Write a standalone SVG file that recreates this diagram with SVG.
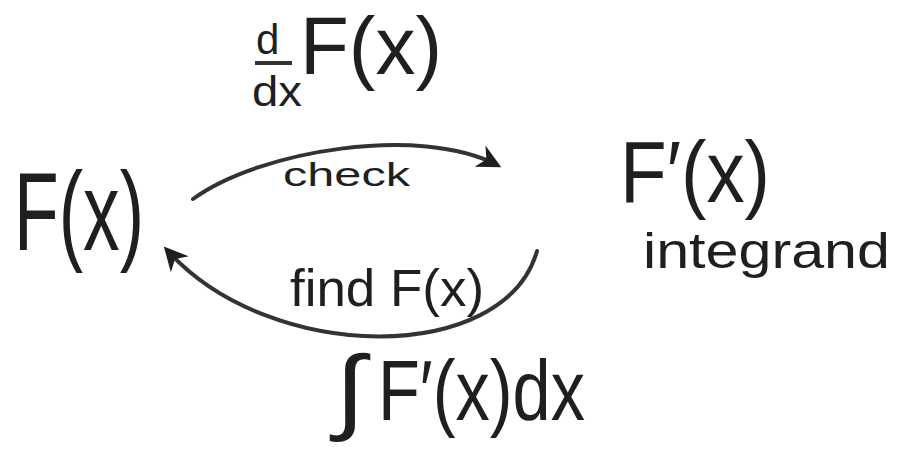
<svg xmlns="http://www.w3.org/2000/svg" width="897" height="456" viewBox="0 0 897 456">
<style>
.t{font-family:"Liberation Sans","DejaVu Sans",sans-serif;fill:#1f1f1f}
.c{fill:none;stroke:#333;stroke-width:4;stroke-linecap:round}
</style>
<defs>
<marker id="ah" viewBox="0 0 10 10" refX="8" refY="5" markerWidth="6" markerHeight="6" orient="auto" markerUnits="strokeWidth">
<path d="M0,0 L10,5 L0,10 L3,5 Z" fill="#1f1f1f"/>
</marker>
</defs>
<rect width="897" height="456" fill="#fff"/>
<g id="Fx">
<text class="t" x="14" y="250" font-size="112" textLength="130" lengthAdjust="spacingAndGlyphs">F(x)</text>
</g>
<g id="Fprime">
<text class="t" x="620" y="202" font-size="88" textLength="150" lengthAdjust="spacingAndGlyphs">F′(x)</text>
<text class="t" x="643" y="268" font-size="50" textLength="247" lengthAdjust="spacingAndGlyphs">integrand</text>
</g>
<g id="connectors">
<path class="c" d="M193,199 C260,150 420,125 497,165" marker-end="url(#ah)"/>
<path class="c" d="M537,251 C505,365 270,365 167,250" marker-end="url(#ah)"/>
</g>
<g id="labels">
<text class="t" x="256" y="54" font-size="42">d</text>
<line x1="255" y1="63" x2="292" y2="63" stroke="#333" stroke-width="4"/>
<text class="t" x="252" y="106" font-size="42" textLength="50" lengthAdjust="spacingAndGlyphs">dx</text>
<text class="t" x="300" y="74" font-size="82" textLength="142" lengthAdjust="spacingAndGlyphs">F(x)</text>
<text class="t" x="283" y="186" font-size="34" textLength="127" lengthAdjust="spacingAndGlyphs">check</text>
<text class="t" x="290" y="306" font-size="52" textLength="194" lengthAdjust="spacingAndGlyphs">find F(x)</text>
<text class="t" x="335" y="422" font-size="94" textLength="30" lengthAdjust="spacingAndGlyphs">∫</text>
<text class="t" x="378" y="420" font-size="86" textLength="207" lengthAdjust="spacingAndGlyphs">F′(x)dx</text>
</g>
</svg>
